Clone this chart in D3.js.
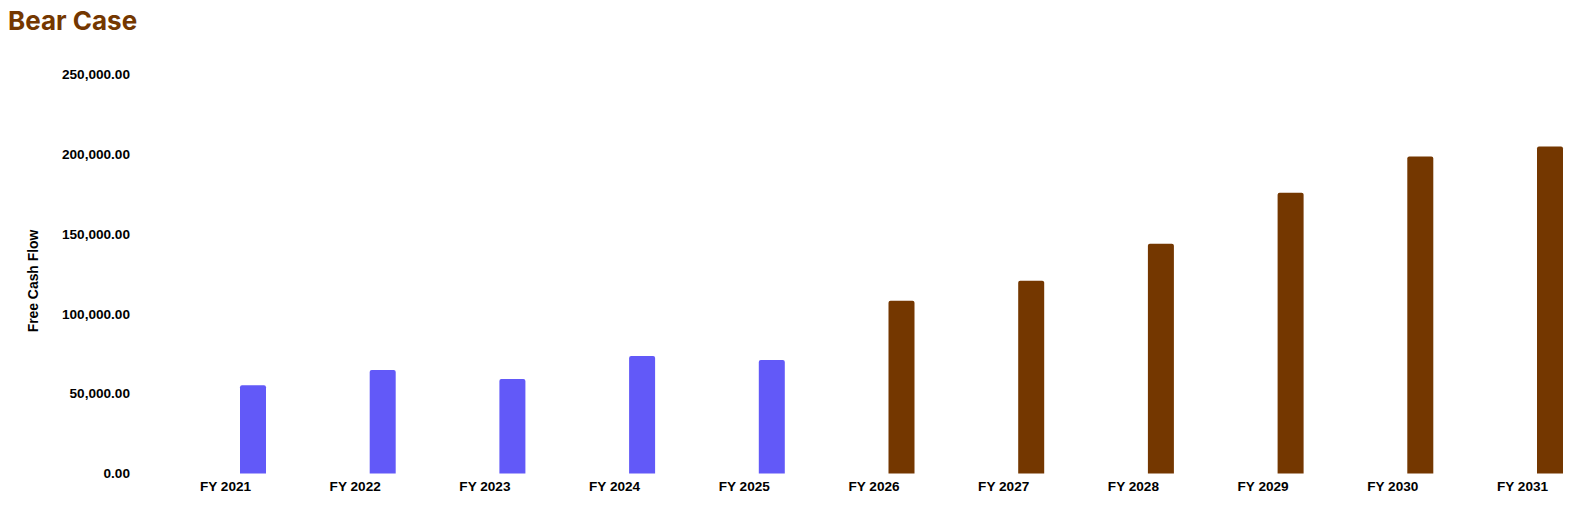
<!DOCTYPE html>
<html>
<head>
<meta charset="utf-8">
<script src="https://cdn.jsdelivr.net/npm/d3@7"></script>
<style>
  body { margin: 0; background: #fff; }
  .title { font-family: Inter, "Liberation Sans", sans-serif; font-weight: 700; font-size: 26px; fill: #743700; }
  .tick text { font-family: "Liberation Sans", Arial, sans-serif; font-weight: 700; font-size: 13.6px; fill: #000; }
  .axis-title { font-family: "Liberation Sans", Arial, sans-serif; font-weight: 700; font-size: 13.9px; fill: #000; }
</style>
</head>
<body>
<div id="chart"></div>
<script>
const years = ['FY 2021', 'FY 2022', 'FY 2023', 'FY 2024', 'FY 2025',
  'FY 2026', 'FY 2027', 'FY 2028', 'FY 2029', 'FY 2030', 'FY 2031']
const historical = [55300, 64800, 59200, 73600, 71100, null, null, null, null, null, null]
const projected = [null, null, null, null, null, 108100, 120600, 143800, 175700, 198300, 204600]
const yTicks = [0, 50000, 100000, 150000, 200000, 250000]

const WIDTH = 1578
const HEIGHT = 506
const Y_TOP = 74
const Y_BOTTOM = 473.5
const BAR_W = 26
const BAR_OFFSET = 15

const svg = d3.select('#chart')
  .append('svg')
    .attr('width', WIDTH)
    .attr('height', HEIGHT)

svg.append('text')
  .attr('class', 'title')
  .attr('x', 8)
  .attr('y', 30)
  .text('Bear Case')

const x = d3.scalePoint()
  .domain(years)
  .range([225, 1522])

const y = d3.scaleLinear()
  .domain([0, 250000])
  .range([Y_BOTTOM, Y_TOP])

const yAxisCall = d3.axisLeft(y)
  .tickValues(yTicks)
  .tickFormat(d3.format(',.2f'))
  .tickSize(0)
  .tickPadding(0)
svg.append('g')
  .attr('transform', 'translate(130, 0)')
  .call(yAxisCall)
  .call(g => g.select('.domain').remove())

const xAxisCall = d3.axisBottom(x)
  .tickSize(0)
  .tickPadding(8)
svg.append('g')
  .attr('transform', `translate(0, ${Y_BOTTOM})`)
  .call(xAxisCall)
  .call(g => g.select('.domain').remove())

svg.append('text')
  .attr('class', 'axis-title')
  .attr('x', -281)
  .attr('y', 37.5)
  .attr('text-anchor', 'middle')
  .attr('transform', 'rotate(-90)')
  .text('Free Cash Flow')

// bar with rounded top corners
function barPath(x0, y0, w, h, r) {
  r = Math.min(r, h, w / 2)
  return `M${x0},${y0 + h}V${y0 + r}Q${x0},${y0} ${x0 + r},${y0}` +
    `H${x0 + w - r}Q${x0 + w},${y0} ${x0 + w},${y0 + r}V${y0 + h}Z`
}

const series = [
  { values: historical, color: '#6259f8' },
  { values: projected, color: '#743700' }
]

series.forEach(s => {
  const data = years.map((yr, i) => ({ yr, v: s.values[i] })).filter(d => d.v != null)
  svg.append('g').selectAll('path')
    .data(data)
    .enter()
    .append('path')
      .attr('d', d => barPath(x(d.yr) + BAR_OFFSET, y(d.v), BAR_W, Y_BOTTOM - y(d.v), 2))
      .attr('fill', s.color)
})
</script>
</body>
</html>
